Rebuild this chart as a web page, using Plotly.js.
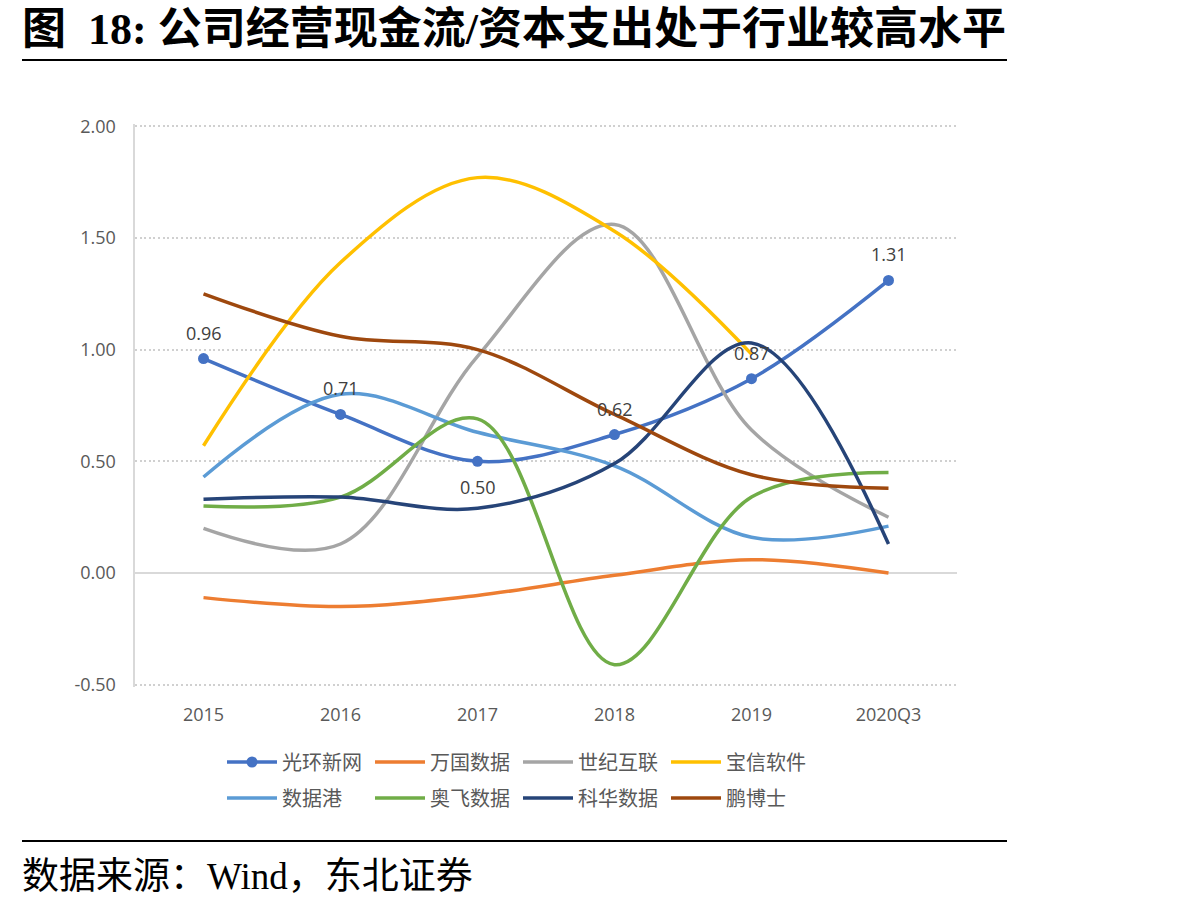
<!DOCTYPE html>
<html>
<head>
<meta charset="utf-8">
<script src="https://cdn.plot.ly/plotly-3.0.1.min.js"></script>
<style>
html,body{margin:0;padding:0;background:#fff;}
#chart{width:1198px;height:909px;}
</style>
</head>
<body>
<div id="chart"></div>
<script>
const categories = ["2015", "2016", "2017", "2018", "2019", "2020Q3"];
const seriesNames = ["光环新网", "万国数据", "世纪互联", "宝信软件", "数据港", "奥飞数据", "科华数据", "鹏博士"];
const guanghuan = [0.96, 0.71, 0.50, 0.62, 0.87, 1.31];
const wanguo = [-0.11, -0.15, -0.10, -0.01, 0.06, 0.00];
const shiji = [0.20, 0.13, 0.97, 1.56, 0.64, 0.25];
const baoxin = [0.57, 1.39, 1.77, 1.53, 0.98, null];
const shujugang = [0.43, 0.80, 0.63, 0.48, 0.16, 0.21];
const aofei = [0.30, 0.34, 0.69, -0.41, 0.34, 0.45];
const kehua = [0.33, 0.34, 0.29, 0.49, 1.03, 0.13];
const pengboshi = [1.25, 1.06, 1.00, 0.71, 0.44, 0.38];
const labelAbove = [true, true, false, true, true, true];

const colors = ["#4472C4", "#ED7D31", "#A5A5A5", "#FFC000", "#5B9BD5", "#70AD47", "#264478", "#9E480E"];
const allValues = [guanghuan, wanguo, shiji, baoxin, shujugang, aofei, kehua, pengboshi];

const traces = allValues.map((vals, i) => ({
  type: "scatter",
  mode: i === 0 ? "lines+markers" : "lines",
  name: seriesNames[i],
  legend: i < 4 ? "legend" : "legend2",
  x: categories,
  y: vals,
  connectgaps: false,
  line: {color: colors[i], width: 3.5, shape: "spline", smoothing: 1},
  marker: {color: colors[i], size: 11},
  hoverinfo: "skip"
}));

const labelAnnotations = guanghuan.map((v, i) => ({
  x: i, y: v, xref: "x", yref: "y",
  text: v.toFixed(2), showarrow: false,
  yshift: labelAbove[i] ? 26 : -26,
  font: {family: "Open Sans, sans-serif", size: 18, color: "#404040"}
}));

const W = 1198, H = 909, L = 135, R = 957, T = 124, B = 687;
const px = p => (p - L) / (R - L);
const py = q => (B - q) / (B - T);

const legendBase = {
  orientation: "h", x: px(222), xanchor: "left", yanchor: "middle",
  entrywidth: 83, entrywidthmode: "pixels", itemwidth: 50,
  font: {family: "Noto Sans CJK SC, sans-serif", size: 20, color: "#595959"},
  bgcolor: "rgba(0,0,0,0)"
};

const layout = {
  width: W, height: H,
  margin: {l: L, r: W - R, t: T, b: H - B},
  paper_bgcolor: "#fff", plot_bgcolor: "#fff",
  showlegend: true,
  xaxis: {
    type: "category", range: [-0.5, 5.5],
    showgrid: false, zeroline: false, showline: false,
    ticks: "", ticklabelstandoff: 15,
    tickfont: {family: "Open Sans, sans-serif", size: 18, color: "#595959"},
    fixedrange: true
  },
  yaxis: {
    range: [-0.51, 2.01], tickvals: [-0.5, 0, 0.5, 1.0, 1.5, 2.0],
    ticktext: ["-0.50", "0.00", "0.50", "1.00", "1.50", "2.00"],
    showgrid: true, gridcolor: "#d0d0d0", gridwidth: 2, griddash: "2px,2.6px",
    zeroline: true, zerolinecolor: "#d9d9d9", zerolinewidth: 2,
    showline: true, linecolor: "#d9d9d9", linewidth: 2.5,
    ticks: "", ticklabelstandoff: 13,
    tickfont: {family: "Open Sans, sans-serif", size: 18, color: "#595959"},
    fixedrange: true
  },
  legend: Object.assign({}, legendBase, {y: py(762)}),
  legend2: Object.assign({}, legendBase, {y: py(798)}),
  shapes: [
    {type: "line", xref: "paper", yref: "paper", x0: px(22), x1: px(1007), y0: py(60), y1: py(60), line: {color: "#000", width: 2}},
    {type: "line", xref: "paper", yref: "paper", x0: px(22), x1: px(1007), y0: py(841), y1: py(841), line: {color: "#000", width: 2}}
  ],
  annotations: labelAnnotations.concat([
    {xref: "paper", yref: "paper", x: px(20), y: py(29), xanchor: "left", yanchor: "middle", showarrow: false,
     text: "<b>图  18: 公司经营现金流/资本支出处于行业较高水平</b>",
     font: {family: "Liberation Serif, Noto Sans CJK SC, serif", size: 44, color: "#000"}},
    {xref: "paper", yref: "paper", x: px(20), y: py(876), xanchor: "left", yanchor: "middle", showarrow: false,
     text: "数据来源：Wind，东北证券",
     font: {family: "Liberation Serif, Noto Sans CJK SC, serif", size: 37, color: "#000"}}
  ])
};

Plotly.newPlot("chart", traces, layout, {displayModeBar: false, staticPlot: true});
</script>
</body>
</html>
